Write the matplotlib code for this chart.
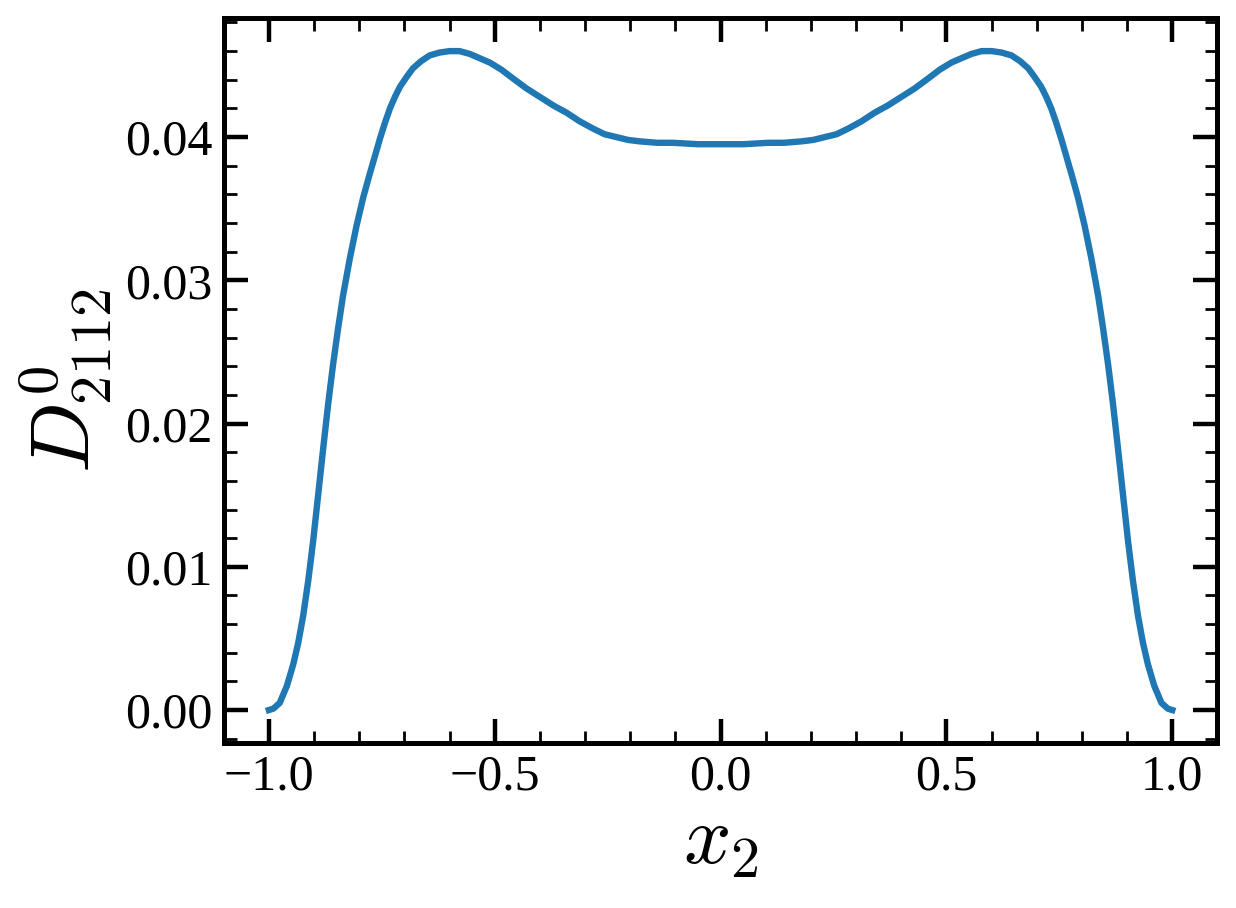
import numpy as np
import matplotlib
matplotlib.use("Agg")
import matplotlib.pyplot as plt
from matplotlib.ticker import AutoMinorLocator

plt.rcParams['font.family'] = ['Liberation Serif', 'DejaVu Serif']
plt.rcParams['mathtext.fontset'] = 'cm'

# left half of the symmetric curve
x_left = [-1.000, -0.990, -0.976, -0.960, -0.946, -0.935, -0.924, -0.913, -0.902,
          -0.891, -0.880, -0.869, -0.858, -0.847, -0.836, -0.821, -0.806, -0.791,
          -0.777, -0.765, -0.754, -0.743, -0.732, -0.721, -0.710, -0.695, -0.681,
          -0.663, -0.644, -0.622, -0.600, -0.578, -0.555, -0.533, -0.511, -0.485,
          -0.460, -0.430, -0.400, -0.370, -0.341, -0.312, -0.283, -0.257, -0.231,
          -0.205, -0.179, -0.140, -0.105, -0.050]
y_left = [0.0000, 0.0001, 0.0005, 0.0017, 0.0032, 0.0047, 0.0066, 0.0090, 0.0118,
          0.0150, 0.0182, 0.0213, 0.0241, 0.0266, 0.0289, 0.0315, 0.0338, 0.0358,
          0.0374, 0.0387, 0.0399, 0.0410, 0.0420, 0.0428, 0.0435, 0.0442, 0.0448,
          0.0453, 0.0457, 0.0459, 0.0460, 0.0460, 0.0458, 0.0455, 0.0452, 0.0447,
          0.0441, 0.0434, 0.0428, 0.0422, 0.0417, 0.0411, 0.0406, 0.0402, 0.0400,
          0.0398, 0.0397, 0.0396, 0.0396, 0.0395]
x_center = [0.0]
y_center = [0.0395]

x = np.array(x_left + x_center + [-v for v in x_left[::-1]])
y = np.array(y_left + y_center + y_left[::-1])

fig = plt.figure(figsize=(6.18, 4.54), dpi=200)
ax = fig.add_axes([0.181, 0.1817, 0.804, 0.7983])
ax.plot(x, y, color='#1f77b4', lw=2.3)

ax.set_xlabel(r'$x_2$', fontsize=30, labelpad=2)
ax.set_ylabel(r'$D^0_{2112}$', fontsize=30, labelpad=4)

ax.xaxis.set_minor_locator(AutoMinorLocator(5))
ax.yaxis.set_minor_locator(AutoMinorLocator(5))
ax.tick_params(which='both', direction='in', top=True, right=True, labelsize=18)
ax.tick_params(which='major', length=8.5, width=1.6, pad=4)
ax.tick_params(which='minor', length=4.5, width=1.0)
for s in ax.spines.values():
    s.set_linewidth(1.8)

fig.savefig('out.png', dpi=200)
